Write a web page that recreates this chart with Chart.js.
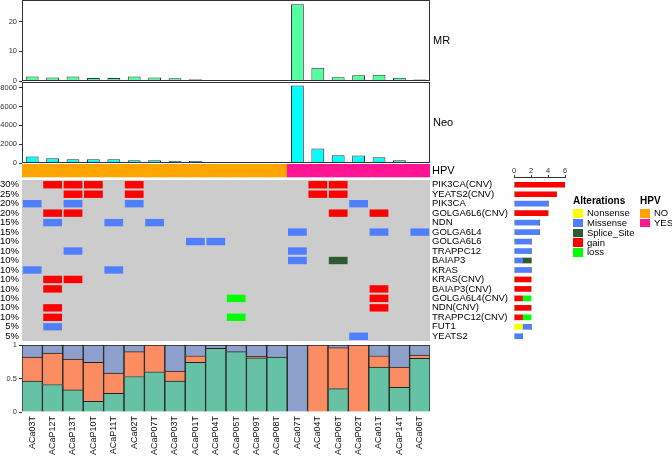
<!DOCTYPE html>
<html>
<head>
<meta charset="utf-8">
<script src="https://cdn.jsdelivr.net/npm/chart.js@4.4.1/dist/chart.umd.min.js"></script>
<style>
  html, body { margin: 0; padding: 0; background: #fff; overflow: hidden; }
  #wrap { position: relative; width: 672px; height: 456px; overflow: hidden;
          font-family: 'Liberation Sans', Arial, sans-serif; color: #000; }
  #wrap canvas { position: absolute; }
  .lg { position: absolute; white-space: nowrap; font-size: 9.5px; line-height: 10px; }
  .lg.title { font-weight: bold; font-size: 10px; line-height: 11px; }
  .sw { position: absolute; width: 10px; height: 8.5px; }
</style>
</head>
<body>
<div id="wrap"></div>
<script>
// --- data ---
const samples = ["ACa03T", "ACaP12T", "ACaP13T", "ACaP10T", "ACaP11T", "ACa02T", "ACaP07T",
  "ACaP03T", "ACaP01T", "ACaP04T", "ACaP05T", "ACaP09T", "ACaP08T", "ACa07T", "ACa04T",
  "ACaP06T", "ACaP02T", "ACa01T", "ACaP14T", "ACa06T"];

const mr  = [1.5, 1.2, 1.5, 1.0, 1.0, 1.5, 1.2, 0.9, 0.6, 0.2, 0.15, 0.15, 0, 25.9, 4.5, 1.3, 1.9, 2.1, 1.1, 0.5];
const neo = [700, 500, 400, 400, 400, 300, 300, 200, 200, 100, 50, 20, 0, 8240, 1530, 820, 800, 600, 300, 100];
const hpv = ["NO", "NO", "NO", "NO", "NO", "NO", "NO", "NO", "NO", "NO", "NO", "NO", "NO",
  "YES", "YES", "YES", "YES", "YES", "YES", "YES"];

const genes = ["PIK3CA(CNV)", "YEATS2(CNV)", "PIK3CA", "GOLGA6L6(CNV)", "NDN", "GOLGA6L4",
  "GOLGA6L6", "TRAPPC12", "BAIAP3", "KRAS", "KRAS(CNV)", "BAIAP3(CNV)", "GOLGA6L4(CNV)",
  "NDN(CNV)", "TRAPPC12(CNV)", "FUT1", "YEATS2"];
const pctLabels = ["30%", "25%", "20%", "20%", "15%", "15%", "10%", "10%", "10%", "10%",
  "10%", "10%", "10%", "10%", "10%", "5%", "5%"];

// altered cells as [gene row, sample column]
const nonsenseCells = [[15, 1]];
const missenseCells = [[2, 0], [2, 2], [2, 5], [2, 16], [4, 1], [4, 4], [4, 6],
  [5, 13], [5, 17], [5, 19], [6, 8], [6, 9], [7, 2], [7, 13], [8, 13], [9, 0], [9, 4],
  [15, 1], [16, 16]];
const spliceCells = [[8, 15]];
const gainCells = [[0, 1], [0, 2], [0, 3], [0, 5], [0, 14], [0, 15],
  [1, 2], [1, 3], [1, 5], [1, 14], [1, 15], [3, 1], [3, 2], [3, 15], [3, 17],
  [10, 1], [10, 2], [11, 1], [11, 17], [12, 17], [13, 1], [13, 17], [14, 1]];
const lossCells = [[12, 10], [14, 10]];

// bottom composition (fractions)
const fracGreen  = [0.46, 0.41, 0.33, 0.16, 0.28, 0.53, 0.60, 0.46, 0.74, 0.95, 0.90, 0.81, 0.82, 0, 0, 0.35, 0, 0.67, 0.37, 0.80];
const fracOrange = [0.36, 0.47, 0.46, 0.58, 0.30, 0.37, 0.40, 0.15, 0.10, 0, 0, 0.02, 0, 0, 1, 0.61, 1, 0.17, 0.30, 0.05];
const fracBlue   = [0.18, 0.12, 0.21, 0.26, 0.42, 0.10, 0, 0.39, 0.16, 0.05, 0.10, 0.17, 0.18, 1, 0, 0.04, 0, 0.16, 0.33, 0.15];

const mrTicks = [0, 10, 20];
const neoTicks = [0, 2000, 4000, 6000, 8000];
const sumTicks = [0, 2, 4, 6];
const fracTicks = [0, 0.5, 1];

const altTypes  = ["Nonsense", "Missense", "Splice_Site", "gain", "loss"];
const altColors = ["#FFFF00", "#4F7FFF", "#2E5B32", "#FF0000", "#00FF00"];
const altCells  = [nonsenseCells, missenseCells, spliceCells, gainCells, lossCells];
const hpvLevels = ["NO", "YES"];
const hpvColors = ["#FFA500", "#FF1493"];

// --- layout helpers ---
const W = 672, PAD = 20, LEFT = 22, RIGHT = 430;
const FONT = "'Liberation Sans', Arial, sans-serif";
Chart.defaults.font.family = FONT;
Chart.defaults.color = "#222";
const wrap = document.getElementById("wrap");

function canvasAt(left, top, w, h) {
  const c = document.createElement("canvas");
  c.width = w; c.height = h;
  c.style.left = left + "px"; c.style.top = top + "px";
  c.style.width = w + "px"; c.style.height = h + "px";
  wrap.appendChild(c);
  return c.getContext("2d");
}
const fixW = w => s => { s.width = w; };
const fixH = h => s => { s.height = h; };
const setTicks = vals => s => { s.ticks = vals.map(v => ({ value: v })); };
const noUi = { legend: { display: false }, tooltip: { enabled: false } };
const noGrid = { display: false, drawTicks: false };

// box round the plot area
const framePlugin = {
  id: "frame",
  afterDraw(chart) {
    const { ctx, chartArea: a } = chart;
    ctx.save();
    ctx.strokeStyle = "#333"; ctx.lineWidth = 1;
    ctx.strokeRect(a.left + 0.5, a.top + 0.5, a.right - a.left - 1, a.bottom - a.top - 1);
    ctx.restore();
  }
};
// track name right of the panel
const sideLabel = {
  id: "sideLabel",
  afterDraw(chart, args, opts) {
    const { ctx, chartArea: a } = chart;
    ctx.save();
    ctx.font = "11px " + FONT; ctx.fillStyle = "#000"; ctx.textBaseline = "middle";
    ctx.fillText(opts.text, a.right + 3, (a.top + a.bottom) / 2);
    ctx.restore();
  }
};
// grey background behind the oncoprint rows
const gridBg = {
  id: "gridBg",
  beforeDatasetsDraw(chart, args, opts) {
    const { ctx, chartArea: a, scales: { y } } = chart;
    const y0 = y.getPixelForValue(opts.from), y1 = y.getPixelForValue(opts.to);
    ctx.save();
    ctx.fillStyle = opts.color;
    ctx.fillRect(a.left, y0, a.right - a.left, y1 - y0);
    ctx.restore();
  }
};

// --- MR / Neo tracks ---
function trackChart(top, values, color, max, ticks, label) {
  const ctx = canvasAt(0, top - PAD, W, 81 + 2 * PAD);
  return new Chart(ctx, {
    type: "bar",
    data: {
      labels: samples,
      datasets: [{ data: values, backgroundColor: color, borderColor: "#333", borderWidth: 1,
                   barPercentage: 0.63, categoryPercentage: 1 }]
    },
    options: {
      responsive: false, animation: false, devicePixelRatio: 1,
      layout: { padding: { top: PAD, bottom: PAD, left: 0, right: W - RIGHT } },
      plugins: { ...noUi, sideLabel: { text: label } },
      scales: {
        x: { display: false },
        y: {
          min: 0, max, afterFit: fixW(LEFT), afterBuildTicks: setTicks(ticks),
          grid: { drawOnChartArea: false, tickLength: 3, color: "#333" },
          border: { display: false },
          ticks: { font: { size: 7.5 }, padding: 2, color: "#333", callback: v => String(v) }
        }
      }
    },
    plugins: [framePlugin, sideLabel]
  });
}
trackChart(0, mr, "#54FF9F", 27.3, mrTicks, "MR");
trackChart(82, neo, "#00FFFF", 8620, neoTicks, "Neo");

// --- HPV strip + oncoprint grid ---
const HPV_LO = -2.19, HPV_HI = -0.82, Y_MAX = 16.5;
const rowIdx = genes.map((g, i) => i);
const oncoSets = altTypes.map((t, k) => ({
  label: t,
  data: altCells[k].map(([r, c]) => ({ x: samples[c], y: [r - 0.39, r + 0.39] })),
  backgroundColor: altColors[k], borderWidth: 0, grouped: false, order: -k,
  barPercentage: 0.92, categoryPercentage: 1
}));
oncoSets.unshift({
  label: "HPV",
  data: samples.map(s => ({ x: s, y: [HPV_LO, HPV_HI] })),
  backgroundColor: hpv.map(h => hpvColors[hpvLevels.indexOf(h)]),
  borderWidth: 0, grouped: false, barPercentage: 1, categoryPercentage: 1
});
new Chart(canvasAt(0, 164 - PAD, W, 177 + 2 * PAD), {
  type: "bar",
  data: { labels: samples, datasets: oncoSets },
  options: {
    responsive: false, animation: false, devicePixelRatio: 1,
    layout: { padding: { top: PAD, bottom: PAD, left: 0, right: 0 } },
    plugins: { ...noUi, gridBg: { from: -0.5, to: Y_MAX, color: "#CCCCCC" } },
    scales: {
      x: { display: false },
      y: {
        position: "left", min: HPV_LO, max: Y_MAX, reverse: true,
        afterFit: fixW(LEFT), afterBuildTicks: setTicks(rowIdx),
        grid: noGrid, border: { display: false },
        ticks: { autoSkip: false, padding: 3, color: "#000", font: { size: 9.5 },
                 callback: (v, i) => pctLabels[i] }
      },
      yg: {
        position: "right", min: HPV_LO, max: Y_MAX, reverse: true,
        afterFit: fixW(W - RIGHT), afterBuildTicks: setTicks([(HPV_LO + HPV_HI) / 2, ...rowIdx]),
        grid: noGrid, border: { display: false },
        ticks: { autoSkip: false, padding: 2, color: "#000",
                 font: c => ({ size: c.index === 0 ? 11 : 9.5 }),
                 callback: (v, i) => i === 0 ? "HPV" : genes[i - 1] }
      }
    }
  },
  plugins: [gridBg]
});

// --- alteration counts per gene (right) ---
const counts = altCells.map(list => rowIdx.map(r => list.filter(([rr]) => rr === r).length));
new Chart(canvasAt(494, 155, 91, 196), {
  type: "bar",
  data: {
    datasets: altTypes.map((t, k) => ({
      label: t,
      data: rowIdx.map(r => ({ x: counts[k][r], y: r })),
      backgroundColor: altColors[k], borderWidth: 0, barThickness: 5, grouped: false
    }))
  },
  options: {
    indexAxis: "y", responsive: false, animation: false, devicePixelRatio: 1,
    layout: { padding: { top: 10, bottom: 10, left: 20, right: 20 } },
    plugins: noUi,
    scales: {
      x: {
        position: "top", min: 0, max: 6, stacked: true,
        afterBuildTicks: setTicks(sumTicks), afterFit: fixH(12),
        grid: { drawOnChartArea: false, tickLength: 2, color: "#333" },
        border: { display: true, color: "#333" },
        ticks: { font: { size: 7.5 }, padding: 0, color: "#333" }
      },
      y: { type: "linear", min: -0.82, max: Y_MAX, reverse: true, offset: false,
           display: false, stacked: true }
    }
  }
});

// --- bottom composition bars ---
new Chart(canvasAt(0, 325, W, 131), {
  type: "bar",
  data: {
    labels: samples,
    datasets: [fracGreen, fracOrange, fracBlue].map((d, k) => ({
      data: d, backgroundColor: ["#66C2A5", "#FC8D62", "#8DA0CB"][k],
      borderColor: "#222", borderWidth: 1, barPercentage: 1, categoryPercentage: 1
    }))
  },
  options: {
    responsive: false, animation: false, devicePixelRatio: 1,
    layout: { padding: { top: PAD, bottom: 0, left: 0, right: W - RIGHT } },
    plugins: noUi,
    scales: {
      x: {
        stacked: true, afterFit: fixH(44),
        grid: noGrid, border: { display: false },
        ticks: { minRotation: 90, maxRotation: 90, autoSkip: false, padding: 4,
                 color: "#111", font: { size: 9 } }
      },
      y: {
        stacked: true, min: 0, max: 1, afterFit: fixW(LEFT), afterBuildTicks: setTicks(fracTicks),
        grid: { drawOnChartArea: false, tickLength: 3, color: "#333" },
        border: { display: false },
        ticks: { font: { size: 7.5 }, padding: 2, color: "#333", callback: v => String(v) }
      }
    }
  }
});

// --- legends ---
function legendBlock(x, title, names, colors) {
  const t = document.createElement("div");
  t.className = "lg title"; t.textContent = title;
  t.style.left = x + "px"; t.style.top = "195px";
  wrap.appendChild(t);
  names.forEach((n, k) => {
    const top = 209 + k * 9.8;
    const sw = document.createElement("div");
    sw.className = "sw"; sw.style.background = colors[k];
    sw.style.left = x + "px"; sw.style.top = top + "px";
    const lb = document.createElement("div");
    lb.className = "lg"; lb.textContent = n;
    lb.style.left = (x + 14) + "px"; lb.style.top = (top - 0.75) + "px";
    wrap.appendChild(sw); wrap.appendChild(lb);
  });
}
legendBlock(573, "Alterations", altTypes, altColors);
legendBlock(640, "HPV", hpvLevels, hpvColors);
</script>
</body>
</html>
